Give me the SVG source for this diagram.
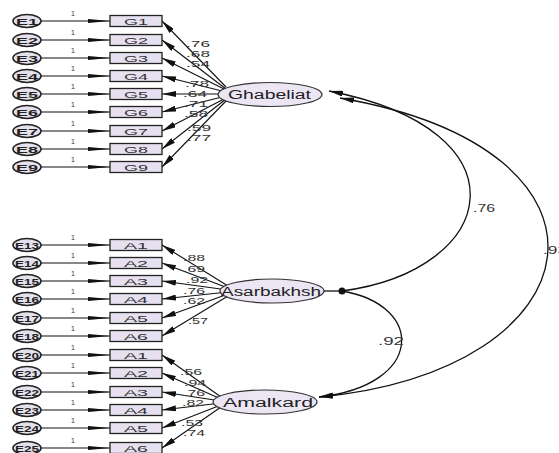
<svg xmlns="http://www.w3.org/2000/svg" width="559" height="453" viewBox="0 0 559 453">
<style>
.bg{fill:#ffffff}
.err ellipse{fill:#e4e0ec;stroke:#222;stroke-width:1.6}
.err text{font-family:"Liberation Sans",Arial,sans-serif;font-size:9px;fill:#222;text-anchor:middle;font-weight:bold}
.obs rect{fill:#e6e0f0;stroke:#222;stroke-width:1.3}
.obs text{font-family:"Liberation Sans",Arial,sans-serif;font-size:9.5px;fill:#333;text-anchor:middle}
.lat ellipse{fill:#ebe5f4;stroke:#333;stroke-width:1.2}
.lat text{font-family:"Liberation Sans",Arial,sans-serif;font-size:12.5px;fill:#222}
.ln{stroke:#111;stroke-width:1.1;fill:none}
.cv{stroke:#111;stroke-width:1.3;fill:none}
.lbl{font-family:"Liberation Sans",Arial,sans-serif;font-size:9px;fill:#333}
.one{font-family:"Liberation Sans",Arial,sans-serif;font-size:7px;fill:#333}
</style>
<defs>
<marker id="ah" markerUnits="userSpaceOnUse" viewBox="0 0 14 6" markerWidth="14" markerHeight="6" refX="14" refY="3" orient="auto-start-reverse"><path d="M0,0 L14,3 L0,6 Z" fill="#111"/></marker>
<marker id="ahl" markerUnits="userSpaceOnUse" viewBox="0 0 22 5" markerWidth="22" markerHeight="5" refX="22" refY="2.5" orient="auto"><path d="M0,0.5 L22,2.5 L0,4.5 Z" fill="#111"/></marker>
</defs>
<rect class="bg" x="0" y="0" width="559" height="453"/>

<g id="connectors">
<g class="ln" marker-end="url(#ahl)">
<line x1="41" y1="21" x2="110" y2="21"/>
<line x1="41" y1="40" x2="110" y2="40"/>
<line x1="41" y1="58" x2="110" y2="58"/>
<line x1="41" y1="76" x2="110" y2="76"/>
<line x1="41" y1="94" x2="110" y2="94"/>
<line x1="41" y1="112" x2="110" y2="112"/>
<line x1="41" y1="131" x2="110" y2="131"/>
<line x1="41" y1="149" x2="110" y2="149"/>
<line x1="41" y1="167" x2="110" y2="167"/>
<line x1="41" y1="245" x2="110" y2="245"/>
<line x1="41" y1="263" x2="110" y2="263"/>
<line x1="41" y1="281" x2="110" y2="281"/>
<line x1="41" y1="299" x2="110" y2="299"/>
<line x1="41" y1="318" x2="110" y2="318"/>
<line x1="41" y1="336" x2="110" y2="336"/>
<line x1="41" y1="355" x2="110" y2="355"/>
<line x1="41" y1="373" x2="110" y2="373"/>
<line x1="41" y1="392" x2="110" y2="392"/>
<line x1="41" y1="410" x2="110" y2="410"/>
<line x1="41" y1="428" x2="110" y2="428"/>
<line x1="41" y1="448" x2="110" y2="448"/>
</g>
<g class="ln" marker-end="url(#ah)">
<line x1="226" y1="87" x2="162" y2="21"/>
<line x1="226" y1="89" x2="162" y2="40"/>
<line x1="226" y1="90" x2="162" y2="58"/>
<line x1="226" y1="92" x2="162" y2="76"/>
<line x1="226" y1="94" x2="162" y2="94"/>
<line x1="226" y1="96" x2="162" y2="112"/>
<line x1="226" y1="98" x2="162" y2="131"/>
<line x1="226" y1="99" x2="162" y2="149"/>
<line x1="226" y1="101" x2="162" y2="167"/>
<line x1="228" y1="286" x2="162" y2="245"/>
<line x1="228" y1="288" x2="162" y2="263"/>
<line x1="228" y1="290" x2="162" y2="281"/>
<line x1="228" y1="292" x2="162" y2="299"/>
<line x1="228" y1="294" x2="162" y2="318"/>
<line x1="228" y1="296" x2="162" y2="336"/>
<line x1="221" y1="397" x2="162" y2="355"/>
<line x1="221" y1="399" x2="162" y2="373"/>
<line x1="221" y1="401" x2="162" y2="392"/>
<line x1="221" y1="403" x2="162" y2="410"/>
<line x1="221" y1="405" x2="162" y2="428"/>
<line x1="221" y1="407" x2="162" y2="448"/>
</g>
<line class="cv" x1="322" y1="291" x2="342" y2="291"/>
<path class="cv" d="M342,291 C500,270 530,130 329,91" marker-end="url(#ah)"/>
<path class="cv" d="M340,98 C640,150 600,370 319,397" marker-start="url(#ah)" marker-end="url(#ah)"/>
<path class="cv" d="M342,291 C425,305 425,385 319,397" marker-end="url(#ah)"/>
<circle cx="342" cy="291" r="3.5" fill="#111"/>
</g>

<g id="labels">
<g class="one">
<text x="71" y="16">1</text><text x="71" y="35">1</text><text x="71" y="53">1</text>
<text x="71" y="71">1</text><text x="71" y="89">1</text><text x="71" y="107">1</text>
<text x="71" y="126">1</text><text x="71" y="144">1</text><text x="71" y="162">1</text>
<text x="71" y="240">1</text><text x="71" y="258">1</text><text x="71" y="276">1</text>
<text x="71" y="294">1</text><text x="71" y="313">1</text><text x="71" y="331">1</text>
<text x="71" y="350">1</text><text x="71" y="368">1</text><text x="71" y="387">1</text>
<text x="71" y="405">1</text><text x="71" y="423">1</text><text x="71" y="443">1</text>
</g>
<g class="lbl">
<text x="186" y="47" textLength="24" lengthAdjust="spacingAndGlyphs">.76</text>
<text x="186" y="57" textLength="24" lengthAdjust="spacingAndGlyphs">.68</text>
<text x="186" y="67" textLength="24" lengthAdjust="spacingAndGlyphs">.54</text>
<text x="185" y="87" textLength="24" lengthAdjust="spacingAndGlyphs">.78</text>
<text x="183" y="97" textLength="24" lengthAdjust="spacingAndGlyphs">.64</text>
<text x="184" y="107" textLength="24" lengthAdjust="spacingAndGlyphs">.71</text>
<text x="184" y="117" textLength="24" lengthAdjust="spacingAndGlyphs">.58</text>
<text x="187" y="131" textLength="24" lengthAdjust="spacingAndGlyphs">.59</text>
<text x="187" y="141" textLength="24" lengthAdjust="spacingAndGlyphs">.77</text>
<text x="183" y="261" textLength="22" lengthAdjust="spacingAndGlyphs">.88</text>
<text x="183" y="272" textLength="22" lengthAdjust="spacingAndGlyphs">.69</text>
<text x="186" y="283" textLength="22" lengthAdjust="spacingAndGlyphs">.92</text>
<text x="183" y="294" textLength="22" lengthAdjust="spacingAndGlyphs">.76</text>
<text x="183" y="304" textLength="22" lengthAdjust="spacingAndGlyphs">.62</text>
<text x="188" y="324" textLength="20" lengthAdjust="spacingAndGlyphs">.57</text>
<text x="180" y="375" textLength="22" lengthAdjust="spacingAndGlyphs">.56</text>
<text x="184" y="386" textLength="22" lengthAdjust="spacingAndGlyphs">.94</text>
<text x="183" y="396" textLength="22" lengthAdjust="spacingAndGlyphs">.76</text>
<text x="182" y="406" textLength="22" lengthAdjust="spacingAndGlyphs">.82</text>
<text x="181" y="426" textLength="22" lengthAdjust="spacingAndGlyphs">.53</text>
<text x="183" y="436" textLength="22" lengthAdjust="spacingAndGlyphs">.74</text>
<text x="473" y="212" textLength="22" lengthAdjust="spacingAndGlyphs" style="font-size:10px">.76</text>
<text x="378" y="345" textLength="26" lengthAdjust="spacingAndGlyphs" style="font-size:10px">.92</text>
<text x="543" y="254" textLength="24" lengthAdjust="spacingAndGlyphs" style="font-size:10px">.93</text>
</g>
</g>

<g id="errors" class="err">
<g id="e1"><ellipse cx="27" cy="21" rx="14" ry="6.5"/><text x="27" y="24.5" textLength="22" lengthAdjust="spacingAndGlyphs">E1</text></g>
<g id="e2"><ellipse cx="27" cy="40" rx="14" ry="6.5"/><text x="27" y="43.5" textLength="22" lengthAdjust="spacingAndGlyphs">E2</text></g>
<g id="e3"><ellipse cx="27" cy="58" rx="14" ry="6.5"/><text x="27" y="61.5" textLength="22" lengthAdjust="spacingAndGlyphs">E3</text></g>
<g id="e4"><ellipse cx="27" cy="76" rx="14" ry="6.5"/><text x="27" y="79.5" textLength="22" lengthAdjust="spacingAndGlyphs">E4</text></g>
<g id="e5"><ellipse cx="27" cy="94" rx="14" ry="6.5"/><text x="27" y="97.5" textLength="22" lengthAdjust="spacingAndGlyphs">E5</text></g>
<g id="e6"><ellipse cx="27" cy="112" rx="14" ry="6.5"/><text x="27" y="115.5" textLength="22" lengthAdjust="spacingAndGlyphs">E6</text></g>
<g id="e7"><ellipse cx="27" cy="131" rx="14" ry="6.5"/><text x="27" y="134.5" textLength="22" lengthAdjust="spacingAndGlyphs">E7</text></g>
<g id="e8"><ellipse cx="27" cy="149" rx="14" ry="6.5"/><text x="27" y="152.5" textLength="22" lengthAdjust="spacingAndGlyphs">E8</text></g>
<g id="e9"><ellipse cx="27" cy="167" rx="14" ry="6.5"/><text x="27" y="170.5" textLength="22" lengthAdjust="spacingAndGlyphs">E9</text></g>
<g id="e13"><ellipse cx="27" cy="245" rx="14" ry="6.5"/><text x="27" y="248.5" textLength="24" lengthAdjust="spacingAndGlyphs">E13</text></g>
<g id="e14"><ellipse cx="27" cy="263" rx="14" ry="6.5"/><text x="27" y="266.5" textLength="24" lengthAdjust="spacingAndGlyphs">E14</text></g>
<g id="e15"><ellipse cx="27" cy="281" rx="14" ry="6.5"/><text x="27" y="284.5" textLength="24" lengthAdjust="spacingAndGlyphs">E15</text></g>
<g id="e16"><ellipse cx="27" cy="299" rx="14" ry="6.5"/><text x="27" y="302.5" textLength="24" lengthAdjust="spacingAndGlyphs">E16</text></g>
<g id="e17"><ellipse cx="27" cy="318" rx="14" ry="6.5"/><text x="27" y="321.5" textLength="24" lengthAdjust="spacingAndGlyphs">E17</text></g>
<g id="e18"><ellipse cx="27" cy="336" rx="14" ry="6.5"/><text x="27" y="339.5" textLength="24" lengthAdjust="spacingAndGlyphs">E18</text></g>
<g id="e20"><ellipse cx="27" cy="355" rx="14" ry="6.5"/><text x="27" y="358.5" textLength="24" lengthAdjust="spacingAndGlyphs">E20</text></g>
<g id="e21"><ellipse cx="27" cy="373" rx="14" ry="6.5"/><text x="27" y="376.5" textLength="24" lengthAdjust="spacingAndGlyphs">E21</text></g>
<g id="e22"><ellipse cx="27" cy="392" rx="14" ry="6.5"/><text x="27" y="395.5" textLength="24" lengthAdjust="spacingAndGlyphs">E22</text></g>
<g id="e23"><ellipse cx="27" cy="410" rx="14" ry="6.5"/><text x="27" y="413.5" textLength="24" lengthAdjust="spacingAndGlyphs">E23</text></g>
<g id="e24"><ellipse cx="27" cy="428" rx="14" ry="6.5"/><text x="27" y="431.5" textLength="24" lengthAdjust="spacingAndGlyphs">E24</text></g>
<g id="e25"><ellipse cx="27" cy="448" rx="14" ry="6.5"/><text x="27" y="451.5" textLength="24" lengthAdjust="spacingAndGlyphs">E25</text></g>
</g>

<g id="indicators" class="obs">
<g id="g1"><rect x="110" y="15.5" width="52" height="11"/><text x="136" y="24.5" textLength="24" lengthAdjust="spacingAndGlyphs">G1</text></g>
<g id="g2"><rect x="110" y="34.5" width="52" height="11"/><text x="136" y="43.5" textLength="24" lengthAdjust="spacingAndGlyphs">G2</text></g>
<g id="g3"><rect x="110" y="52.5" width="52" height="11"/><text x="136" y="61.5" textLength="24" lengthAdjust="spacingAndGlyphs">G3</text></g>
<g id="g4"><rect x="110" y="70.5" width="52" height="11"/><text x="136" y="79.5" textLength="24" lengthAdjust="spacingAndGlyphs">G4</text></g>
<g id="g5"><rect x="110" y="88.5" width="52" height="11"/><text x="136" y="97.5" textLength="24" lengthAdjust="spacingAndGlyphs">G5</text></g>
<g id="g6"><rect x="110" y="106.5" width="52" height="11"/><text x="136" y="115.5" textLength="24" lengthAdjust="spacingAndGlyphs">G6</text></g>
<g id="g7"><rect x="110" y="125.5" width="52" height="11"/><text x="136" y="134.5" textLength="24" lengthAdjust="spacingAndGlyphs">G7</text></g>
<g id="g8"><rect x="110" y="143.5" width="52" height="11"/><text x="136" y="152.5" textLength="24" lengthAdjust="spacingAndGlyphs">G8</text></g>
<g id="g9"><rect x="110" y="161.5" width="52" height="11"/><text x="136" y="170.5" textLength="24" lengthAdjust="spacingAndGlyphs">G9</text></g>
<g id="a1"><rect x="110" y="239.5" width="52" height="11"/><text x="136" y="248.5" textLength="24" lengthAdjust="spacingAndGlyphs">A1</text></g>
<g id="a2"><rect x="110" y="257.5" width="52" height="11"/><text x="136" y="266.5" textLength="24" lengthAdjust="spacingAndGlyphs">A2</text></g>
<g id="a3"><rect x="110" y="275.5" width="52" height="11"/><text x="136" y="284.5" textLength="24" lengthAdjust="spacingAndGlyphs">A3</text></g>
<g id="a4"><rect x="110" y="293.5" width="52" height="11"/><text x="136" y="302.5" textLength="24" lengthAdjust="spacingAndGlyphs">A4</text></g>
<g id="a5"><rect x="110" y="312.5" width="52" height="11"/><text x="136" y="321.5" textLength="24" lengthAdjust="spacingAndGlyphs">A5</text></g>
<g id="a6"><rect x="110" y="330.5" width="52" height="11"/><text x="136" y="339.5" textLength="24" lengthAdjust="spacingAndGlyphs">A6</text></g>
<g id="b1"><rect x="110" y="349.5" width="52" height="11"/><text x="136" y="358.5" textLength="24" lengthAdjust="spacingAndGlyphs">A1</text></g>
<g id="b2"><rect x="110" y="367.5" width="52" height="11"/><text x="136" y="376.5" textLength="24" lengthAdjust="spacingAndGlyphs">A2</text></g>
<g id="b3"><rect x="110" y="386.5" width="52" height="11"/><text x="136" y="395.5" textLength="24" lengthAdjust="spacingAndGlyphs">A3</text></g>
<g id="b4"><rect x="110" y="404.5" width="52" height="11"/><text x="136" y="413.5" textLength="24" lengthAdjust="spacingAndGlyphs">A4</text></g>
<g id="b5"><rect x="110" y="422.5" width="52" height="11"/><text x="136" y="431.5" textLength="24" lengthAdjust="spacingAndGlyphs">A5</text></g>
<g id="b6"><rect x="110" y="442.5" width="52" height="11"/><text x="136" y="451.5" textLength="24" lengthAdjust="spacingAndGlyphs">A6</text></g>
</g>

<g id="latents" class="lat">
<g id="ghabeliat"><ellipse cx="270" cy="94.5" rx="52" ry="12"/><text x="228" y="99" textLength="83" lengthAdjust="spacingAndGlyphs">Ghabeliat</text></g>
<g id="asarbakhsh"><ellipse cx="272" cy="291" rx="52" ry="12"/><text x="221" y="295.5" textLength="100" lengthAdjust="spacingAndGlyphs">Asarbakhsh</text></g>
<g id="amalkard"><ellipse cx="265" cy="402" rx="52" ry="12"/><text x="223" y="406.5" textLength="90" lengthAdjust="spacingAndGlyphs">Amalkard</text></g>
</g>
</svg>
